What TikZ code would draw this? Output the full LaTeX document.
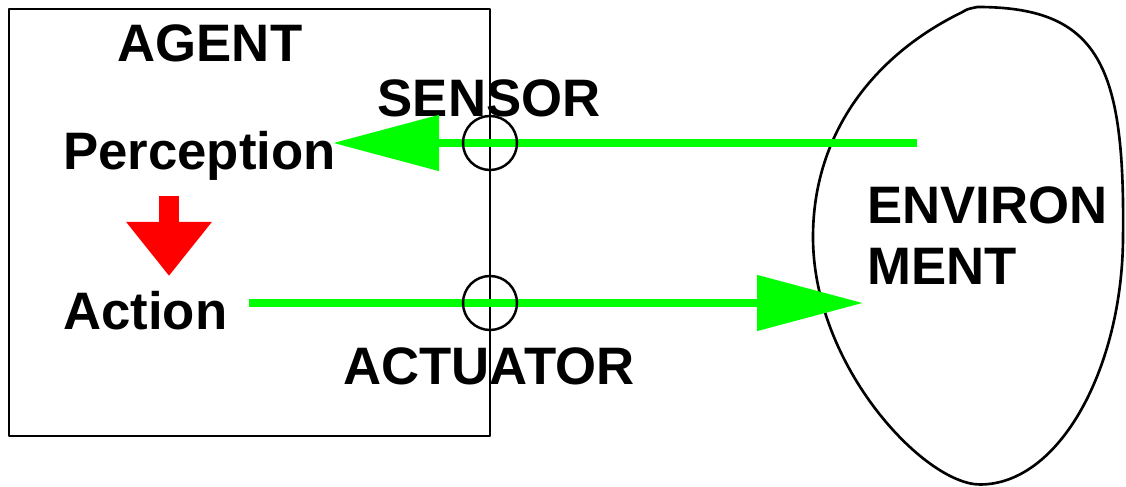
\documentclass[tikz,border=0pt]{standalone}
\usepackage{fontspec}
\setmainfont{Liberation Sans}
\usetikzlibrary{arrows.meta}
\definecolor{sigreen}{RGB}{0,255,0}
\definecolor{sired}{RGB}{255,0,0}

\begin{document}
\begin{tikzpicture}[line join=round,
  every node/.style={inner sep=0pt,font=\bfseries\fontsize{30}{35}\selectfont},
  signal/.style={draw=sigreen,line width=4.5pt,-{Triangle[length=2.12cm,width=1.08cm,fill=sigreen]}},
  port/.style={draw,line width=1.4pt}]
  \useasboundingbox (0,0) rectangle (22.52,9.74);
  % agent
  \draw[line width=1.4pt] (0.18,1.02) rectangle (9.80,9.56);
  \node[anchor=base] (agent) at (4.2,8.5) {AGENT};
  \node[anchor=base west] (perception) at (1.26,6.34) {Perception};
  \node[anchor=base west] (action) at (1.26,3.14) {Action};
  \node[anchor=base] (sensor) at (9.78,7.4) {SENSOR};
  \node[anchor=base] (actuator) at (9.78,2.04) {ACTUATOR};
  % environment
  \draw[line width=1.5pt] (19.55,9.6)
    .. controls (22.0,9.6) and (22.5,8.4) .. (22.46,5.0)
    .. controls (22.45,2.4) and (21.2,0.05) .. (19.6,0.05)
    .. controls (18.5,0.05) and (16.26,2.4) .. (16.26,5.0)
    .. controls (16.26,7.0) and (17.4,8.6) .. (19.25,9.5)
    .. controls (19.35,9.56) .. cycle;
  \node[anchor=base west,align=left] (env) at (17.34,4.04) {ENVIRON\\MENT};
  % signals
  \coordinate (envout) at (18.34,6.88);
  \coordinate (envin) at (17.26,3.68);
  \coordinate (actout) at (4.98,3.68);
  \coordinate (percin) at (6.66,6.88);
  \draw[signal] (envout) -- (percin);
  \draw[signal] (actout) -- (envin);
  \draw[port] (9.80,6.88) circle[radius=0.54];
  \draw[port] (9.80,3.68) circle[radius=0.54];
  % decision
  \draw[sired,line width=0.4cm,-{Triangle[length=1.08cm,width=1.64cm,fill=sired]}]
    (3.38,5.82) -- (3.38,4.22);
\end{tikzpicture}
\end{document}
